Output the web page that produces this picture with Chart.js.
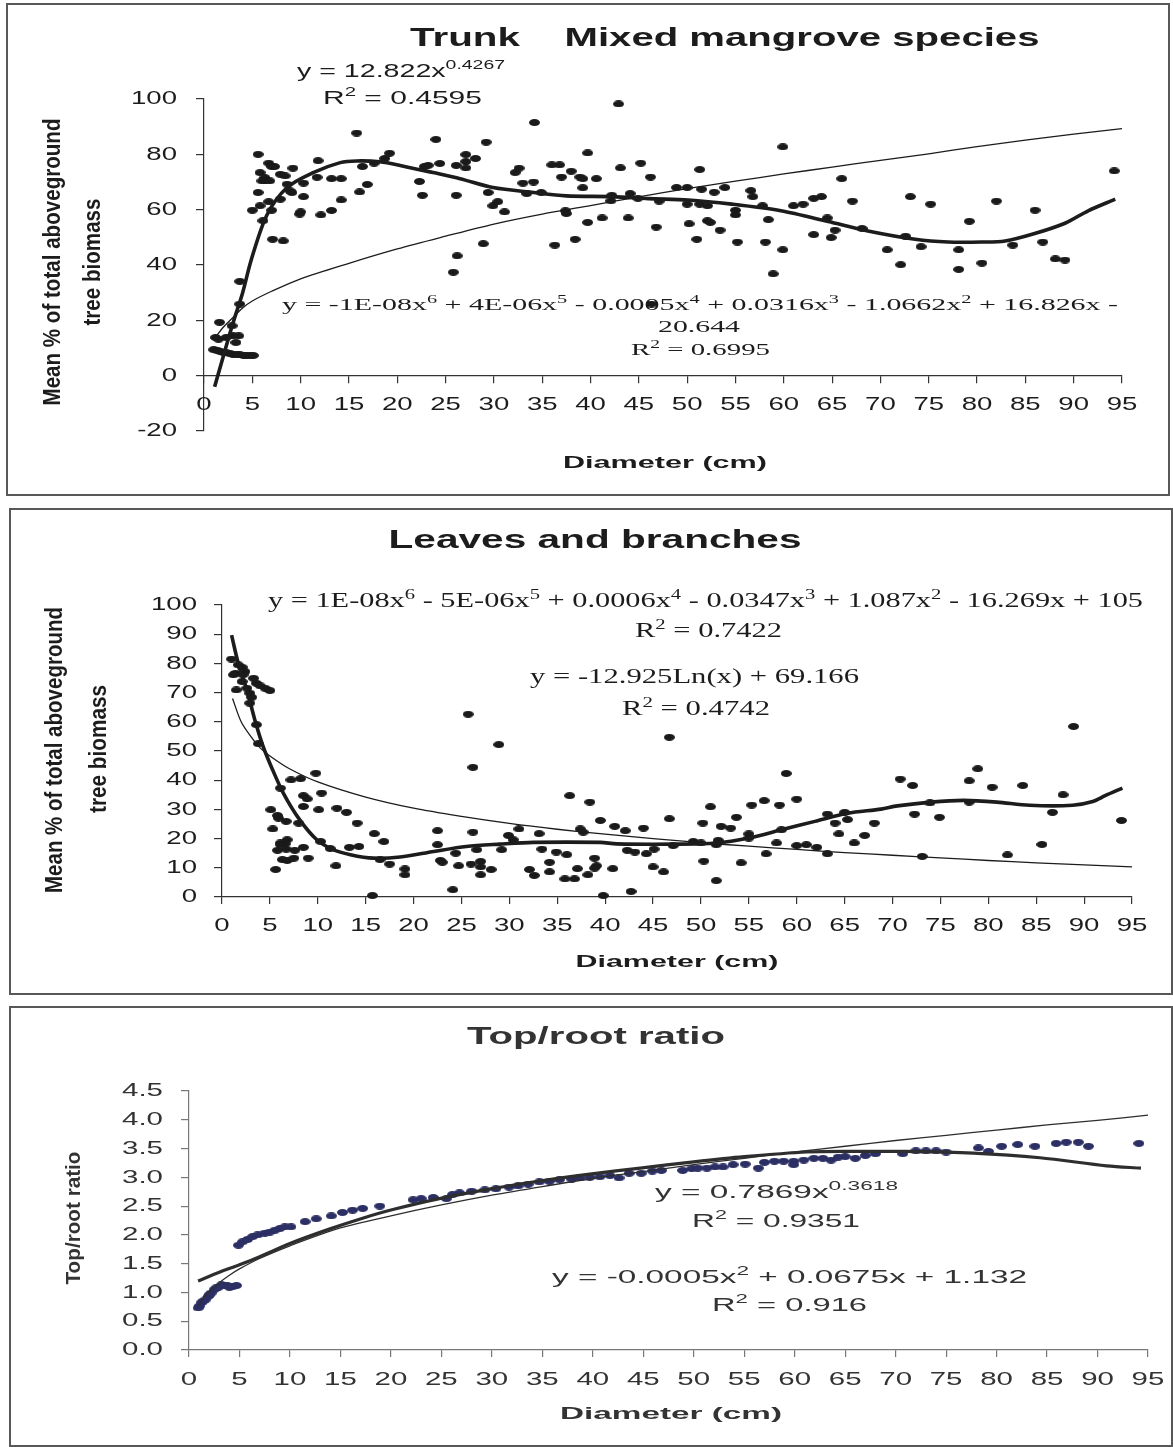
<!DOCTYPE html>
<html>
<head>
<meta charset="utf-8">
<script src="https://cdn.jsdelivr.net/npm/chart.js@4.4.1/dist/chart.umd.min.js"></script>
<style>
  body { margin: 0; background: #fff; width: 1173px; height: 1447px; position: relative; overflow: hidden; }
  .frame { position: absolute; border: 2px solid #585858; box-sizing: border-box; }
  canvas { position: absolute; left: 0; }
</style>
</head>
<body>
<div class="frame" style="left:6px;top:3px;width:1164px;height:493px"></div>
<div class="frame" style="left:9px;top:508px;width:1164px;height:487px"></div>
<div class="frame" style="left:9px;top:1006px;width:1164px;height:441px"></div>
<canvas id="trunk" width="1173" height="500" style="top:0"></canvas>
<canvas id="leaves" width="1173" height="500" style="top:500px"></canvas>
<canvas id="ratio" width="1173" height="447" style="top:1000px"></canvas>

<script>
// ---- axis ticks ----
const diameterTicks = [0, 5, 10, 15, 20, 25, 30, 35, 40, 45, 50, 55, 60, 65, 70, 75, 80, 85, 90, 95];
const trunkTicks = [-20, 0, 20, 40, 60, 80, 100];
const leafTicks = [0, 10, 20, 30, 40, 50, 60, 70, 80, 90, 100];
const ratioTicks = [0, 0.5, 1, 1.5, 2, 2.5, 3, 3.5, 4, 4.5];

// ---- trunk: share of aboveground biomass (%) by tree diameter (cm) ----
const trunkDiameter = [
  1.6, 1.2, 1.5, 2.3, 3.0, 3.3, 2.9, 3.6, 3.7, 3.7,
  1.0, 1.4, 1.7, 2.0, 2.3, 2.7, 3.0, 3.4, 3.7, 4.1, 4.4, 4.8, 5.1,
  5.6, 6.7, 7.0, 7.3, 5.8, 6.3, 6.0, 6.3, 6.8, 7.9, 8.4, 9.2, 5.6, 5.8, 6.7, 5.0, 7.0, 6.1, 7.1, 8.2,
  7.9, 8.6, 8.9, 9.1, 10.3, 9.9, 10.0, 10.3, 11.8, 11.7, 12.1, 13.2, 14.2, 13.2, 14.2, 15.8, 16.1, 16.9,
  16.4, 17.6, 18.7, 19.2,
  22.3, 22.6, 22.8, 23.2, 24.0, 24.4, 26.1, 27.1, 27.1, 27.1, 26.1, 25.8, 26.2, 28.1, 29.2, 29.4, 29.9,
  30.4, 31.1, 28.9, 32.2, 32.6, 33.0, 34.1, 34.2, 33.4, 34.9, 36.0, 36.8, 37.0, 36.3, 37.4, 37.5, 38.0,
  38.4, 38.9, 39.2, 39.2, 39.7, 39.7, 40.6, 41.2, 42.2, 42.1, 42.9, 43.1, 43.9, 44.1, 44.9, 45.2, 46.2,
  46.8, 47.1, 46.3,
  48.9, 50.0, 51.3, 51.5, 52.8, 53.9, 50.0, 51.3, 52.1, 50.2, 51.0, 52.1, 52.4, 53.4, 55.0, 55.0, 55.2,
  56.6, 56.8, 57.8, 58.4, 58.1, 58.9, 59.9, 59.9, 61.0, 62.0, 63.1, 63.9, 63.1, 64.5, 65.3, 64.9, 66.0,
  67.1, 68.1, 70.7, 72.1, 72.6, 73.1, 74.2, 75.2, 78.1, 78.1, 79.2, 80.5, 82.0, 83.7, 86.0, 86.8, 88.1,
  89.1, 94.2
];
const trunkShare = [
  19.3, 13.8, 13.2, 13.8, 14.4, 12.0, 18.0, 14.4, 25.9, 34.1,
  9.4, 9.0, 8.7, 8.4, 8.2, 7.9, 7.7, 7.6, 7.5, 7.4, 7.3, 7.3, 7.3,
  80.0, 76.8, 75.6, 75.6, 73.4, 71.6, 70.4, 70.4, 70.4, 72.8, 72.2, 75.0, 66.2, 61.4, 62.9, 59.8, 59.8, 56.0, 49.3, 48.7,
  63.8, 69.2, 66.8, 66.2, 64.7, 58.4, 59.2, 69.6, 77.7, 71.7, 58.1, 71.2, 71.2, 59.7, 63.5, 87.7, 66.4, 69.1,
  75.6, 76.8, 78.5, 80.4,
  70.2, 65.2, 75.6, 76.0, 85.4, 76.7, 76.0, 79.9, 77.4, 75.1, 65.2, 37.4, 43.3, 78.5, 84.4, 66.2, 61.4,
  62.9, 59.2, 47.7, 73.4, 75.0, 69.6, 70.0, 91.5, 65.8, 66.2, 76.2, 76.2, 71.8, 47.2, 59.6, 58.6, 73.9,
  49.3, 71.8, 71.2, 67.9, 80.5, 55.4, 71.2, 57.0, 65.2, 63.2, 98.2, 75.1, 57.0, 65.8, 64.1, 76.8, 71.8,
  53.7, 63.1, 25.9,
  68.0, 68.0, 74.5, 67.4, 66.3, 68.0, 62.0, 62.0, 61.4, 54.9, 49.3, 56.0, 55.4, 52.6, 59.8, 58.1, 48.3,
  66.9, 64.7, 61.4, 56.4, 48.3, 36.8, 82.7, 45.5, 61.4, 62.0, 64.1, 64.7, 51.0, 57.0, 52.6, 49.9, 71.2,
  63.1, 53.2, 45.5, 40.1, 50.4, 64.7, 46.6, 62.0, 45.5, 38.4, 55.8, 40.7, 63.1, 47.2, 59.8, 48.3, 42.2,
  41.8, 74.0
];
// 6th order polynomial trend (thick) and power trend (thin)
const trunkPolyDiameter = [1.1, 2, 3, 4, 4.9, 6.5, 8.6, 11.3, 14.1, 15.8, 18.2, 20.3, 23.7, 26.5, 29.9, 34.1,
  37.5, 42.3, 46, 50.1, 54.6, 59.7, 64.6, 68.7, 73.6, 77, 80.5, 82.9, 85.7, 89.1, 91.5, 94.3];
const trunkPolyFit = [-4, 7, 19, 30, 42, 58, 68, 73.4, 77, 77.6, 77.3, 76, 73.4, 71.2, 68, 66.2,
  65, 64.7, 64, 63.5, 62, 59.6, 55.7, 52.3, 49.3, 48.3, 48.3, 48.7, 51.1, 55.1, 59.6, 63.8];
const trunkPowerDiameter = [1.2, 2, 3, 4, 5, 7, 10, 15, 20, 25, 30, 35, 40, 45, 50, 55, 60, 65, 70, 75, 80, 85, 90, 95];
const trunkPowerFit = [14.0, 17.5, 21, 24.5, 27, 30.5, 35, 40.6, 45.8, 50.4, 54.8, 58.4, 61.5, 64.6, 67.6,
  70.3, 72.9, 75.4, 77.8, 80.2, 82.8, 85.1, 87.3, 89.3];

// ---- leaves and branches ----
const leafDiameter = [
  1.0, 1.4, 1.2, 1.5, 1.7, 2.1, 2.4, 2.2, 2.1, 2.6, 2.9, 3.1, 3.3, 3.6, 4.0, 4.5, 5.0, 2.9, 3.6, 3.8,
  6.1, 7.2, 8.2, 9.8, 8.5, 8.9, 8.5, 10.4, 10.1, 5.1,
  5.8, 5.9, 6.7, 8.0, 5.3, 5.6, 6.1, 6.8, 6.6, 6.1,
  5.8, 6.7, 7.6, 8.5, 6.3, 6.8, 7.5, 9.0, 10.3, 11.3,
  11.9, 12.0, 13.0, 13.3, 14.3, 14.1, 15.7, 15.9, 16.5, 16.9,
  17.5, 19.1, 19.1, 22.5, 22.5, 22.8, 23.0, 24.1, 24.4, 24.7,
  25.7, 26.2, 26.2, 26.0, 27.0, 27.0, 27.0, 26.6, 28.1, 28.9,
  29.2, 29.9, 30.4, 31.0, 32.1, 32.6, 33.1, 33.4, 34.2, 34.2,
  34.9, 36.0, 36.3, 35.8, 36.8, 37.1, 37.4, 37.7, 38.4, 38.2,
  38.9, 39.1, 38.9, 39.5, 39.8, 40.8, 41.0, 42.1, 42.3, 43.1,
  42.7, 44.0, 44.3, 45.0, 46.1, 45.1, 46.7, 46.7, 47.1,
  49.2, 50.0, 50.2, 50.3, 51.0, 51.6, 51.6, 51.8, 52.1, 53.1,
  53.7, 54.2, 55.0, 55.0, 55.3, 56.6, 56.8, 57.9, 58.2, 58.4,
  58.9, 60.0, 60.0, 61.0, 62.1, 63.2, 63.2, 64.0, 64.4, 65.0,
  65.3, 66.0, 67.1, 68.1, 70.8, 72.1, 72.3, 73.1, 73.9, 74.9,
  78.0, 78.0, 78.9, 80.4, 82.0, 83.6, 85.6, 86.7, 87.8, 88.9, 93.9
];
const leafShare = [
  81.5, 76.6, 76.1, 70.9, 79.5, 78.7, 77.2, 76.1, 73.8, 71.5, 69.8, 68.4, 74.9, 73.2, 72.3, 71.5, 70.7, 66.4, 59.0, 52.5,
  37.3, 40.1, 40.5, 42.4, 34.7, 33.6, 31.0, 35.6, 29.9, 29.9,
  27.9, 27.0, 25.9, 25.3, 23.3, 9.4, 18.5, 19.6, 18.2, 17.9,
  16.0, 16.4, 16.0, 17.0, 12.8, 12.5, 13.3, 13.3, 19.0, 16.6,
  10.7, 30.4, 29.0, 17.0, 17.3, 25.3, 0.5, 21.7, 12.8, 19.0,
  11.3, 9.6, 7.6, 22.7, 17.9, 12.5, 11.9, 2.5, 15.0, 10.7,
  62.6, 44.4, 22.2, 11.3, 12.2, 10.3, 7.6, 16.2, 9.4, 52.2,
  16.2, 21.1, 19.6, 23.3, 9.4, 7.4, 21.7, 16.4, 11.9, 8.6,
  15.4, 14.5, 34.7, 6.2, 6.2, 9.7, 23.3, 22.2, 32.5, 7.6,
  9.9, 10.7, 13.3, 26.2, 0.5, 9.7, 24.2, 22.7, 16.0, 15.4,
  1.9, 23.6, 14.8, 10.3, 8.6, 16.4, 54.7, 26.8, 17.6,
  19.0, 18.5, 25.3, 12.3, 30.9, 5.6, 17.9, 19.4, 24.2, 23.6,
  27.3, 11.7, 21.6, 20.2, 31.5, 33.0, 14.8, 18.5, 31.5, 23.0,
  42.3, 33.5, 17.6, 17.9, 17.0, 28.4, 14.8, 25.3, 21.6, 29.0,
  26.5, 18.5, 21.1, 25.3, 40.4, 38.2, 28.4, 13.9, 32.2, 27.3,
  39.8, 32.5, 43.9, 37.6, 14.4, 38.2, 18.0, 29.0, 35.0, 58.4, 26.2
];
const leafPolyDiameter = [1.0, 1.7, 2.6, 3.4, 4.3, 5.2, 6.4, 8.1, 9.9, 11.6, 13.4, 15.8, 18.6, 22.1, 25.5, 29,
  32.5, 39.5, 41.2, 47.1, 51.6, 55, 58.4, 61.9, 65.3, 68.8, 70.5, 74, 77.4, 80.9, 84.3, 88.8, 90.9, 92.2, 94];
const leafPolyFit = [89.7, 80, 70.9, 61, 51.5, 44.2, 35.6, 26.5, 19.6, 16.2, 14.5, 13.3, 13.7, 15.6, 17.3, 18.1,
  18.7, 18.7, 18.2, 18.1, 18.5, 20.2, 23, 25.9, 28.7, 30.1, 31.2, 32.5, 33.1, 32.5, 31.4, 31.4, 32.7, 34.7, 37.3];
const leafLogDiameter = [1.1, 2, 3, 4, 5, 7, 10, 15, 20, 25, 30, 35, 40, 45, 50, 55, 60, 65, 70, 75, 80, 85, 90, 95];
const leafLogFit = [68, 60, 55, 51, 48.3, 44, 39.4, 34.2, 30.4, 27.6, 25.2, 23.2, 21.5, 20, 18.6, 17.4,
  16.3, 15.2, 14.3, 13.4, 12.5, 11.7, 11, 10.3];

// ---- top/root ratio ----
const ratioDiameter = [
  0.9, 1.0, 1.2, 1.4, 1.6, 1.9, 2.0, 2.2, 2.5, 2.7, 2.9, 3.2, 3.5, 3.8, 4.0, 4.3, 4.7,
  4.9, 5.3, 5.8, 6.3, 6.8, 7.5, 8.0, 8.5, 9.0, 9.5, 10.1, 11.5, 12.6, 14.1, 15.2, 16.2, 17.2, 18.9, 22.2, 23.0,
  24.2, 25.5, 26.1, 26.8, 28.0, 29.3, 30.4, 31.7, 32.6, 33.6, 34.7, 35.7, 36.7, 37.9, 38.7, 39.7, 40.7, 41.7,
  42.6, 43.6, 44.8, 45.9, 46.8, 48.9, 49.8, 50.4, 51.3, 52.1, 52.9, 53.9, 55.1, 56.4, 57.0, 58.0, 58.9, 59.9,
  59.9, 60.9, 61.9, 62.8, 63.6, 64.3, 65.0, 66.0, 67.0, 68.0, 70.7, 72.0, 73.0, 74.0, 75.0, 78.2, 79.2, 80.5,
  82.1, 83.8, 85.9, 86.9, 88.1, 89.1, 94.1
];
const ratioValue = [
  0.73, 0.76, 0.82, 0.85, 0.87, 0.93, 0.96, 0.99, 1.05, 1.08, 1.09, 1.13, 1.12, 1.12, 1.09, 1.10, 1.12,
  1.82, 1.88, 1.92, 1.97, 2.00, 2.03, 2.05, 2.08, 2.11, 2.14, 2.14, 2.23, 2.28, 2.33, 2.39, 2.43, 2.46, 2.50, 2.61, 2.63,
  2.65, 2.63, 2.70, 2.73, 2.76, 2.78, 2.80, 2.83, 2.85, 2.88, 2.92, 2.93, 2.96, 2.97, 2.99, 3.00, 3.01, 3.03,
  2.99, 3.07, 3.07, 3.11, 3.12, 3.12, 3.15, 3.16, 3.16, 3.18, 3.18, 3.22, 3.23, 3.16, 3.26, 3.28, 3.28, 3.28,
  3.22, 3.30, 3.33, 3.33, 3.30, 3.35, 3.36, 3.33, 3.38, 3.41, 3.41, 3.46, 3.46, 3.46, 3.44, 3.51, 3.45, 3.54,
  3.57, 3.54, 3.59, 3.61, 3.61, 3.54, 3.59
];
const ratioPowerDiameter = [0.9, 1.5, 2, 3, 4, 5, 7, 10, 15, 20, 25, 30, 35, 40, 45, 50, 55, 60, 65, 70, 75, 80, 85, 90, 95];
const ratioPowerFit = [0.76, 0.92, 1.01, 1.17, 1.30, 1.41, 1.59, 1.81, 2.12, 2.33, 2.52, 2.69, 2.84, 2.98, 3.10,
  3.22, 3.33, 3.44, 3.54, 3.64, 3.73, 3.82, 3.91, 3.99, 4.08];
const ratioQuadDiameter = [0.9, 3, 5, 7, 10, 13.9, 17.2, 20.2, 24.8, 29.9, 34.9, 39.9, 44.7, 50, 55, 61.2, 66,
  71, 77.7, 84.3, 90.9, 94.3];
const ratioQuadFit = [1.2, 1.35, 1.48, 1.62, 1.85, 2.1, 2.29, 2.44, 2.63, 2.8, 2.94, 3.06, 3.16, 3.27, 3.36, 3.44,
  3.45, 3.45, 3.42, 3.34, 3.2, 3.16];

const SANS = "'Liberation Sans', Arial, sans-serif";
const SERIF = "'Liberation Serif', 'Times New Roman', serif";
const INK = '#1c1c1c';

// small flattened dot used as the marker
function dotImage(w, h, color) {
  const c = document.createElement('canvas');
  c.width = w;
  c.height = h;
  const g = c.getContext('2d');
  g.fillStyle = color;
  g.beginPath();
  g.ellipse(w / 2, h / 2, w / 2, h / 2, 0, 0, Math.PI * 2);
  g.fill();
  return c;
}

const sup = (t) => ({ t, sup: true });

// draws a run of text (with optional superscripts) squeezed/stretched to a given width
function rich(ctx, parts, x, y, o) {
  parts = (Array.isArray(parts) ? parts : [parts]).map(p => typeof p === 'string' ? { t: p } : p);
  const size = o.size;
  const font = p => `${o.bold ? 'bold ' : ''}${p.sup ? size * 0.68 : size}px ${o.family || SANS}`;
  let natural = 0;
  parts.forEach(p => { ctx.font = font(p); natural += ctx.measureText(p.t).width; });
  const sx = o.width ? o.width / natural : (o.sx || 1);
  const w = natural * sx;
  const left = o.align === 'center' ? x - w / 2 : o.align === 'right' ? x - w : x;
  ctx.save();
  ctx.fillStyle = o.color || INK;
  ctx.textAlign = 'left';
  ctx.textBaseline = o.baseline || 'alphabetic';
  ctx.translate(left, y);
  ctx.scale(sx, 1);
  let cx = 0;
  parts.forEach(p => {
    ctx.font = font(p);
    ctx.fillText(p.t, cx, p.sup ? -size * 0.42 : 0);
    cx += ctx.measureText(p.t).width;
  });
  ctx.restore();
}

function rotated(ctx, text, cx, cy, o) {
  ctx.save();
  ctx.translate(cx, cy);
  ctx.rotate(-Math.PI / 2);
  rich(ctx, text, 0, 0, Object.assign({}, o, { align: 'center', baseline: 'middle' }));
  ctx.restore();
}

function tickLabels(chart, o) {
  const ctx = chart.ctx, xs = chart.scales.x, ys = chart.scales.y;
  const base = ys.getPixelForValue(0) + o.xGap;
  xs.ticks.forEach(t => rich(ctx, String(t.value), xs.getPixelForValue(t.value), base,
    { size: o.size, sx: o.sx, align: 'center', baseline: 'middle', color: o.color }));
  ys.ticks.forEach(t => rich(ctx, o.yFormat(t.value), chart.chartArea.left - o.yGap, ys.getPixelForValue(t.value),
    { size: o.size, sx: o.sx, align: 'right', baseline: 'middle', color: o.color }));
}

function textLayer(draw) {
  return { id: 'textLayer', beforeDatasetsDraw(chart) { draw(chart, chart.ctx); } };
}

function fitLine(xs, ys, width, color) {
  return {
    data: xs.map((x, i) => ({ x, y: ys[i] })),
    showLine: true, borderColor: color || INK, borderWidth: width,
    pointRadius: 0, tension: 0.3, fill: false, clip: false
  };
}

function dots(xs, ys, img) {
  return {
    data: xs.map((x, i) => ({ x, y: ys[i] })),
    showLine: false, pointStyle: img, pointRadius: 5, clip: false
  };
}

function axesOptions(o) {
  const axisLine = { color: o.axisColor, width: 1.2 };
  const marks = { drawOnChartArea: false, drawTicks: true, tickLength: 7, color: o.axisColor, lineWidth: 1.2 };
  return {
    responsive: false,
    animation: false,
    events: [],
    layout: { padding: o.padding },
    plugins: { legend: { display: false }, tooltip: { enabled: false } },
    scales: {
      x: {
        type: 'linear', min: 0, max: 95, position: o.xPosition || 'bottom',
        afterBuildTicks: s => { s.ticks = diameterTicks.map(v => ({ value: v })); },
        afterFit: s => { s.height = 10; },
        ticks: { display: false }, grid: marks, border: axisLine
      },
      y: {
        type: 'linear', min: o.yMin, max: o.yMax,
        afterBuildTicks: s => { s.ticks = o.yTicks.map(v => ({ value: v })); },
        afterFit: s => { s.width = 10; },
        ticks: { display: false }, grid: Object.assign({}, marks, { tickLength: 8 }), border: axisLine
      }
    }
  };
}

const blackDot = dotImage(11, 7, '#1a1a1a');
const navyDot = dotImage(11, 7, '#2c2f63');

// Trunk
new Chart(document.getElementById('trunk'), {
  type: 'scatter',
  data: {
    datasets: [
      fitLine(trunkPolyDiameter, trunkPolyFit, 3.6),
      fitLine(trunkPowerDiameter, trunkPowerFit, 1.3),
      dots(trunkDiameter, trunkShare, blackDot)
    ]
  },
  options: axesOptions({
    padding: { left: 194, right: 51, top: 99, bottom: 69 },
    yMin: -20, yMax: 100, yTicks: trunkTicks, axisColor: '#333', xPosition: { y: 0 }
  }),
  plugins: [textLayer((chart, ctx) => {
    tickLabels(chart, { size: 19, sx: 1.45, xGap: 29, yGap: 27, color: INK, yFormat: v => String(v) });
    rich(ctx, 'Trunk', 465, 46, { size: 26, bold: true, width: 110, align: 'center' });
    rich(ctx, 'Mixed mangrove species', 802, 46, { size: 26, bold: true, width: 475, align: 'center' });
    rich(ctx, ['y = 12.822x', sup('0.4267')], 297, 77, { size: 19, width: 208 });
    rich(ctx, ['R', sup('2'), ' = 0.4595'], 323, 104, { size: 19, width: 159 });
    rich(ctx, ['y = -1E-08x', sup('6'), ' + 4E-06x', sup('5'), ' - 0.0005x', sup('4'), ' + 0.0316x', sup('3'),
      ' - 1.0662x', sup('2'), ' + 16.826x -'], 282, 310, { size: 17, family: SERIF, width: 836 });
    rich(ctx, '20.644', 699, 332, { size: 17, family: SERIF, width: 82, align: 'center' });
    rich(ctx, ['R', sup('2'), ' = 0.6995'], 631, 355, { size: 17, family: SERIF, width: 139 });
    rotated(ctx, 'Mean % of total aboveground', 54, 262, { size: 23, bold: true, width: 287 });
    rotated(ctx, 'tree biomass', 94, 262, { size: 23, bold: true, width: 127 });
    rich(ctx, 'Diameter (cm)', 665, 463, { size: 17, bold: true, width: 204, align: 'center', baseline: 'middle' });
  })]
});

// Leaves and branches
new Chart(document.getElementById('leaves'), {
  type: 'scatter',
  data: {
    datasets: [
      fitLine(leafPolyDiameter, leafPolyFit, 3.6),
      fitLine(leafLogDiameter, leafLogFit, 1.3),
      dots(leafDiameter, leafShare, blackDot)
    ]
  },
  options: axesOptions({
    padding: { left: 212, right: 41, top: 105, bottom: 93 },
    yMin: 0, yMax: 100, yTicks: leafTicks, axisColor: '#333'
  }),
  plugins: [textLayer((chart, ctx) => {
    tickLabels(chart, { size: 19, sx: 1.45, xGap: 29, yGap: 25, color: INK, yFormat: v => String(v) });
    rich(ctx, 'Leaves and branches', 595, 41, { size: 26, bold: true, width: 413, align: 'center', baseline: 'middle' });
    rich(ctx, ['y = 1E-08x', sup('6'), ' - 5E-06x', sup('5'), ' + 0.0006x', sup('4'), ' - 0.0347x', sup('3'),
      ' + 1.087x', sup('2'), ' - 16.269x + 105'], 268, 107, { size: 20, family: SERIF, width: 875 });
    rich(ctx, ['R', sup('2'), ' = 0.7422'], 635, 137, { size: 20, family: SERIF, width: 147 });
    rich(ctx, 'y = -12.925Ln(x) + 69.166', 530, 183, { size: 20, family: SERIF, width: 329 });
    rich(ctx, ['R', sup('2'), ' = 0.4742'], 622, 215, { size: 20, family: SERIF, width: 148 });
    rotated(ctx, 'Mean % of total aboveground', 56, 250, { size: 23, bold: true, width: 286 });
    rotated(ctx, 'tree biomass', 100, 249, { size: 23, bold: true, width: 128 });
    rich(ctx, 'Diameter (cm)', 677, 462, { size: 17, bold: true, width: 203, align: 'center', baseline: 'middle' });
  })]
});

// Top/root ratio
new Chart(document.getElementById('ratio'), {
  type: 'scatter',
  data: {
    datasets: [
      fitLine(ratioQuadDiameter, ratioQuadFit, 3.2, '#2e2e2e'),
      fitLine(ratioPowerDiameter, ratioPowerFit, 1.3, '#2e2e2e'),
      dots(ratioDiameter, ratioValue, navyDot)
    ]
  },
  options: axesOptions({
    padding: { left: 179, right: 25, top: 91, bottom: 87 },
    yMin: 0, yMax: 4.5, yTicks: ratioTicks, axisColor: '#777'
  }),
  plugins: [textLayer((chart, ctx) => {
    tickLabels(chart, { size: 19, sx: 1.55, xGap: 30, yGap: 26, color: '#333', yFormat: v => v.toFixed(1) });
    rich(ctx, 'Top/root ratio', 596, 37, { size: 24, bold: true, width: 258, align: 'center', baseline: 'middle', color: '#333' });
    rich(ctx, ['y = 0.7869x', sup('0.3618')], 655, 198, { size: 19, width: 243, color: '#333' });
    rich(ctx, ['R', sup('2'), ' = 0.9351'], 692, 227, { size: 19, width: 168, color: '#333' });
    rich(ctx, ['y = -0.0005x', sup('2'), ' + 0.0675x + 1.132'], 552, 283, { size: 19, width: 475, color: '#333' });
    rich(ctx, ['R', sup('2'), ' = 0.916'], 712, 311, { size: 19, width: 155, color: '#333' });
    rotated(ctx, 'Top/root ratio', 74, 218, { size: 20, bold: true, width: 133, color: '#333' });
    rich(ctx, 'Diameter (cm)', 671, 414, { size: 17, bold: true, width: 222, align: 'center', baseline: 'middle', color: '#333' });
  })]
});
</script>
</body>
</html>
